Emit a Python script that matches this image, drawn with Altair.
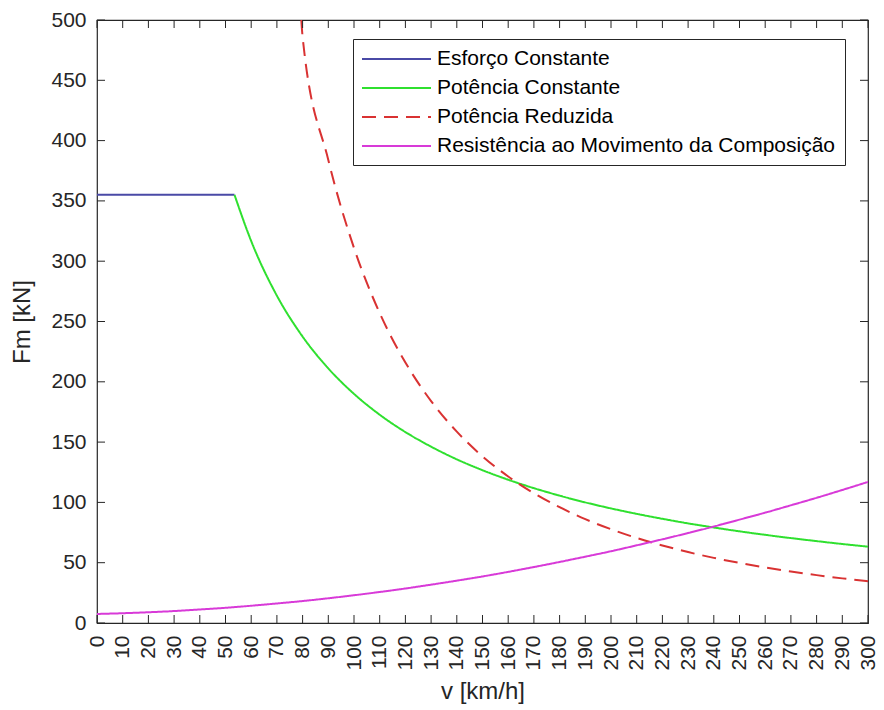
import altair as alt
import pandas as pd

# ---- data ----
series_names = ["Esforço Constante", "Potência Constante", "Potência Reduzida",
                "Resistência ao Movimento da Composição"]
series_colors = ["#4a4aa6", "#2fe02f", "#d93232", "#d83ad8"]

esf_v = [0, 53.5]
esf_f = [355, 355]

pc_v = [53.5, 60, 70, 80, 90, 100, 110, 120, 130, 140, 150, 160, 170, 180, 190,
        200, 210, 220, 230, 240, 250, 260, 270, 280, 290, 300]
pc_f = [355, 316.7, 271.4, 237.5, 211.1, 190, 172.7, 158.3, 146.2, 135.7, 126.7,
        118.8, 111.8, 105.6, 100, 95, 90.5, 86.4, 82.6, 79.2, 76, 73.1, 70.4, 67.9,
        65.5, 63.3]

pr_v = [79.5, 80, 90, 100, 110, 120, 130, 140, 150, 160, 170, 180, 190, 200, 210,
        220, 230, 240, 250, 260, 270, 280, 290, 300]
pr_f = [500, 486, 384, 311, 257, 216, 184, 158.7, 138.2, 121.5, 107.6, 96, 86.1,
        77.8, 70.5, 64.3, 58.8, 54, 49.8, 46, 42.7, 39.7, 37, 34.6]

res_v = [0, 10, 20, 30, 40, 50, 60, 70, 80, 90, 100, 110, 120, 130, 140, 150, 160,
         170, 180, 190, 200, 210, 220, 230, 240, 250, 260, 270, 280, 290, 300]
res_f = [7.5, 8.1, 8.9, 9.9, 11.2, 12.6, 14.3, 16.2, 18.2, 20.5, 23.0, 25.7, 28.6,
         31.8, 35.1, 38.6, 42.4, 46.4, 50.6, 55.0, 59.5, 64.4, 69.4, 74.6, 80.0,
         85.7, 91.5, 97.6, 103.8, 110.3, 117]

x_ticks = list(range(0, 301, 10))
y_ticks = list(range(0, 501, 50))

# ---- build table ----
rows = []
for name, vs, fs in zip(series_names, [esf_v, pc_v, pr_v, res_v], [esf_f, pc_f, pr_f, res_f]):
    for v, f in zip(vs, fs):
        rows.append({"serie": name, "v": v, "F": f, "ordem": series_names.index(name)})
df = pd.DataFrame(rows)

W, H = 771, 603
FONT = "Liberation Sans"
TXT = "#262626"

xscale = alt.Scale(domain=[0, 300], nice=False, zero=False)
yscale = alt.Scale(domain=[0, 500], nice=False)

xaxis = alt.Axis(values=x_ticks, title="v [km/h]", labelAngle=-90,
                 tickSize=0, labelPadding=12, domain=False, grid=False,
                 labelFontSize=21, titleFontSize=24, labelFont=FONT,
                 titleFont=FONT, labelColor=TXT, titleColor=TXT,
                 titleFontWeight="normal", titlePadding=9,
                 labelOverlap=False)
yaxis = alt.Axis(values=y_ticks, title="Fm [kN]", tickSize=0,
                 labelPadding=11, domain=False, grid=False,
                 labelFontSize=21, titleFontSize=24, labelFont=FONT,
                 titleFont=FONT, labelColor=TXT, titleColor=TXT,
                 titleFontWeight="normal", titlePadding=16,
                 labelOverlap=False)

legend_common = dict(
    orient="none", legendX=256, legendY=19, title=None,
    symbolType="M-1.1,0H5.8", symbolSize=400, symbolStrokeWidth=1.8,
    labelFontSize=21, labelFont=FONT, labelColor="#000000", labelLimit=600,
    labelOffset=53, fillColor="white", strokeColor=TXT, padding=9,
    rowPadding=8,
)

lines = alt.Chart(df).mark_line(strokeWidth=2, clip=True, interpolate="monotone").encode(
    x=alt.X("v:Q", scale=xscale, axis=xaxis),
    y=alt.Y("F:Q", scale=yscale, axis=yaxis),
    color=alt.Color("serie:N", scale=alt.Scale(domain=series_names, range=series_colors),
                    legend=alt.Legend(**legend_common)),
    strokeDash=alt.StrokeDash("serie:N",
                              scale=alt.Scale(domain=series_names,
                                              range=[[1, 0], [1, 0], [14, 8], [1, 0]]),
                              legend=alt.Legend(**legend_common)),
    order="ordem:Q",
    detail="serie:N",
)

xt = pd.DataFrame({"t": x_ticks})
yt = pd.DataFrame({"t": y_ticks})
TL = 8
tick_style = dict(color=TXT, strokeWidth=1)

xb = alt.Chart(xt).mark_rule(**tick_style).encode(
    x=alt.X("t:Q", scale=xscale, axis=xaxis), y=alt.value(H), y2=alt.value(H - TL))
xtop = alt.Chart(xt).mark_rule(**tick_style).encode(
    x=alt.X("t:Q", scale=xscale, axis=xaxis), y=alt.value(0), y2=alt.value(TL))
yl = alt.Chart(yt).mark_rule(**tick_style).encode(
    y=alt.Y("t:Q", scale=yscale, axis=yaxis), x=alt.value(0), x2=alt.value(TL))
yr = alt.Chart(yt).mark_rule(**tick_style).encode(
    y=alt.Y("t:Q", scale=yscale, axis=yaxis), x=alt.value(W), x2=alt.value(W - TL))

chart = alt.layer(lines, xb, xtop, yl, yr).properties(
    width=W, height=H,
    autosize=alt.AutoSizeParams(type="none"),
    padding={"left": 97, "top": 20, "right": 16, "bottom": 87},
    background="white",
).configure_view(stroke=TXT, strokeWidth=1.2)

chart.save("out.html", embed_options={"renderer": "svg", "actions": False})
